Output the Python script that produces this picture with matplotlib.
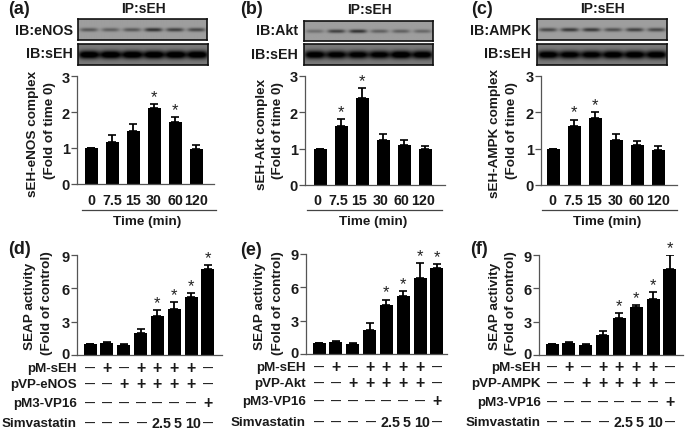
import numpy as np
import matplotlib
matplotlib.use('Agg')
import matplotlib.pyplot as plt
from matplotlib.transforms import ScaledTranslation

plt.rcParams['font.family'] = ['Liberation Sans', 'DejaVu Sans']
plt.rcParams['font.weight'] = 'bold'

W, H = 685, 431

time_labels = ['0', '7.5', '15', '30', '60', '120']

# top row values
a_vals = [1.0, 1.17, 1.47, 2.1, 1.72, 0.98]
a_tops = [1.0, 1.35, 1.66, 2.23, 1.87, 1.08]
a_star = [3, 4]
b_vals = [1.0, 1.62, 2.4, 1.23, 1.1, 0.98]
b_tops = [1.0, 1.82, 2.66, 1.4, 1.24, 1.07]
b_star = [1, 2]
c_vals = [0.98, 1.62, 1.84, 1.23, 1.09, 0.96]
c_tops = [0.98, 1.8, 2.0, 1.4, 1.22, 1.07]
c_star = [1, 2]

# bottom row values
d_vals = [1.0, 1.05, 0.88, 1.95, 3.5, 4.1, 5.2, 7.7]
d_tops = [1.0, 1.2, 1.03, 2.35, 4.05, 4.8, 5.55, 8.1]
e_vals = [1.0, 1.05, 0.88, 2.2, 4.45, 5.25, 6.8, 7.7]
e_tops = [1.0, 1.2, 1.03, 2.8, 4.9, 5.65, 8.2, 8.1]
f_vals = [1.0, 1.05, 0.88, 1.8, 3.35, 4.3, 5.0, 7.7]
f_tops = [1.0, 1.2, 1.03, 2.2, 3.75, 4.5, 5.7, 9.0]
sim_star = [4, 5, 6, 7]

DASH = '—'
row_sEH = [DASH, '+', DASH, '+', '+', '+', '+', DASH]
row_pVP = [DASH, DASH, '+', '+', '+', '+', '+', DASH]
row_pM3 = [DASH, DASH, DASH, DASH, DASH, DASH, DASH, '+']
row_sim = [DASH, DASH, DASH, DASH, '2.5', '5', '10', DASH]
sim_shift = [0, 0, 0, 1, 4, 3, 2, 0]

# band darkness per lane on the blots
a_top_bands = [0.45, 0.4, 0.45, 0.7, 0.6, 0.55]
a_low_bands = [1.0, 1.0, 1.0, 1.0, 1.0, 1.0]
b_top_bands = [0.3, 0.6, 0.7, 0.4, 0.4, 0.35]
b_low_bands = [0.95, 0.9, 0.9, 0.9, 1.0, 0.95]
c_top_bands = [0.55, 0.65, 0.65, 0.5, 0.6, 0.55]
c_low_bands = [0.95, 0.9, 0.9, 0.95, 0.95, 0.95]

fig = plt.figure(figsize=(W / 100, H / 100), dpi=100)


def txt(x, y, s, size=9.8, ha='center', va='center', **kw):
    fig.text(x / W, 1 - y / H, s, fontsize=size, ha=ha, va=va, color='#1a1a1a', **kw)


def make_ax(left, right, top, bottom):
    return fig.add_axes([left / W, 1 - bottom / H, (right - left) / W, (bottom - top) / H])


def bars(left, right, top, bottom, first, step, vals, tops, ymax, ticks, stars, ylabels, ylab_xs, ylab_ys):
    ax = make_ax(left, right, top, bottom)
    ax.set_xlim((left - first) / step, (right - first) / step)
    ax.set_ylim(0, ymax)
    x = np.arange(len(vals))
    vals = np.array(vals)
    tops = np.array(tops)
    ax.bar(x, vals, width=13 / step, color='black')
    lower = np.zeros(len(vals))
    ax.errorbar(x, vals, yerr=[lower, tops - vals], fmt='none', ecolor='black',
                elinewidth=1.3, capsize=3.2, capthick=1.2)
    for i in stars:
        ax.text(i, tops[i], '*', fontsize=12, ha='center', va='bottom',
                color='#222222', fontweight='normal', linespacing=1)
    for s in ['top', 'right']:
        ax.spines[s].set_visible(False)
    for s in ['left', 'bottom']:
        ax.spines[s].set_color('#555555')
        ax.spines[s].set_linewidth(0.9)
    ax.set_xticks([])
    ax.set_yticks(ticks)
    ax.tick_params(axis='y', length=4.5, width=0.9, color='#555555', labelsize=10.5, pad=0.5,
                   labelcolor='#1a1a1a')
    for s, lx, ly in zip(ylabels, ylab_xs, ylab_ys):
        txt(lx, ly, s, size=9.7, rotation=90)
    ax.patch.set_alpha(0)
    return ax


def blot(left, right, top, bottom, bands, dark):
    ax = make_ax(left, right, top, bottom)
    h, w = 42, 260
    yy, xx = np.mgrid[0:h, 0:w]
    bg = 0.62 if not dark else 0.48
    img = np.full((h, w), bg)
    sx = 18 if not dark else 21
    sy = 3.8 if not dark else 8
    for i, b in enumerate(bands):
        cx = (i + 0.5) * w / len(bands)
        img -= b * 0.62 * np.exp(-((xx - cx) / sx) ** 4 - ((yy - h * 0.5) / sy) ** 2)
    ax.imshow(np.clip(img, 0, 1), cmap='gray', vmin=0, vmax=1, aspect='auto', interpolation='bilinear')
    ax.set_xticks([])
    ax.set_yticks([])
    for s in ax.spines.values():
        s.set_linewidth(1.2)
        s.set_color('#111111')


def time_row(ax_first, step, line_l, line_r, label_x):
    for i, s in enumerate(time_labels):
        txt(ax_first + i * step, 201, s, size=10.3)
    fig.add_artist(plt.Line2D([line_l / W, line_r / W], [1 - 211 / H, 1 - 211 / H], color='#444444', lw=0.9))
    txt(label_x, 222, 'Time (min)', size=9.7)


def treat_rows(ax, first, step, label_r, name, ys):
    # the zero label sits very close to the first row, lift it a little
    lift = ScaledTranslation(0, 2 / 72, fig.dpi_scale_trans)
    zero = ax.get_yticklabels()[0]
    zero.set_transform(zero.get_transform() + lift)
    names = ['pM-sEH', name, 'pM3-VP16', 'Simvastatin']
    rows = [row_sEH, row_pVP, row_pM3, row_sim]
    for y, n, row in zip(ys, names, rows):
        txt(label_r, y, n, ha='right', size=9.6)
        for i, s in enumerate(row):
            dx = sim_shift[i] if row is row_sim else 0
            if s == DASH:
                size = 7.2
            elif s == '+':
                size = 11.5
            else:
                size = 10.3
            txt(first + i * step + dx, y, s, size=size)


seap_label = ['SEAP activity', '(Fold of control)']
time_sub = '(Fold of time 0)'

# panel (a)
blot(78, 207, 20, 41, a_top_bands, False)
blot(78, 208, 45, 66, a_low_bands, True)
bars(77, 214, 77, 185, 91, 21, a_vals, a_tops, 3, [0, 1, 2, 3], a_star,
     ['sEH-eNOS complex', time_sub], [33, 50], [134, 131])
time_row(91, 21, 82, 216, 147)
txt(143, 9, 'IP:sEH', size=10)
txt(73, 31, 'IB:eNOS', ha='right', size=10.3)
txt(73, 54, 'IB:sEH', ha='right', size=10.3)
txt(8, 9, '(a)', size=13, ha='left')

# panel (b)
blot(304, 433, 22, 42, b_top_bands, False)
blot(304, 433, 45, 66, b_low_bands, True)
bars(305, 445, 77, 186, 320, 21, b_vals, b_tops, 3, [0, 1, 2, 3], b_star,
     ['sEH-Akt complex', time_sub], [262, 278], [134, 131])
time_row(317, 21.2, 307, 442, 373)
txt(369, 9.5, 'IP:sEH', size=10)
txt(298, 31, 'IB:Akt', ha='right', size=10.3)
txt(298, 55, 'IB:sEH', ha='right', size=10.3)
txt(240, 9, '(b)', size=13, ha='left')

# panel (c)
blot(537, 667, 20, 41, c_top_bands, False)
blot(537, 667, 45, 66, c_low_bands, True)
bars(541, 677, 77, 186, 553, 21, c_vals, c_tops, 3, [0, 1, 2, 3], c_star,
     ['sEH-AMPK complex', time_sub], [495, 512], [134, 131])
time_row(552, 21.2, 542, 677, 607)
txt(602, 9, 'IP:sEH', size=10)
txt(531, 31, 'IB:AMPK', ha='right', size=10.3)
txt(531, 54, 'IB:sEH', ha='right', size=10.3)
txt(471, 9, '(c)', size=13, ha='left')

# panel (d)
ax_d = bars(77, 222, 256, 356, 90, 16.85, d_vals, d_tops, 9, [0, 3, 6, 9], sim_star,
            seap_label, [30, 47], [306, 303])
treat_rows(ax_d, 90, 16.85, 77, 'pVP-eNOS', [369, 385, 404, 424])
txt(8, 250, '(d)', size=13, ha='left')

# panel (e)
ax_e = bars(306, 447, 255, 355, 319, 16.85, e_vals, e_tops, 9, [0, 3, 6, 9], sim_star,
            seap_label, [260, 278], [306, 303])
treat_rows(ax_e, 319, 16.85, 306, 'pVP-Akt', [368, 384, 402, 423])
txt(240, 251, '(e)', size=13, ha='left')

# panel (f)
ax_f = bars(539, 683, 256, 356, 552, 16.85, f_vals, f_tops, 9, [0, 3, 6, 9], sim_star,
            seap_label, [495, 511], [306, 303])
treat_rows(ax_f, 552, 16.85, 541, 'pVP-AMPK', [368, 384, 403, 423])
txt(470, 250, '(f)', size=13, ha='left')

fig.savefig('out.png', dpi=100)
